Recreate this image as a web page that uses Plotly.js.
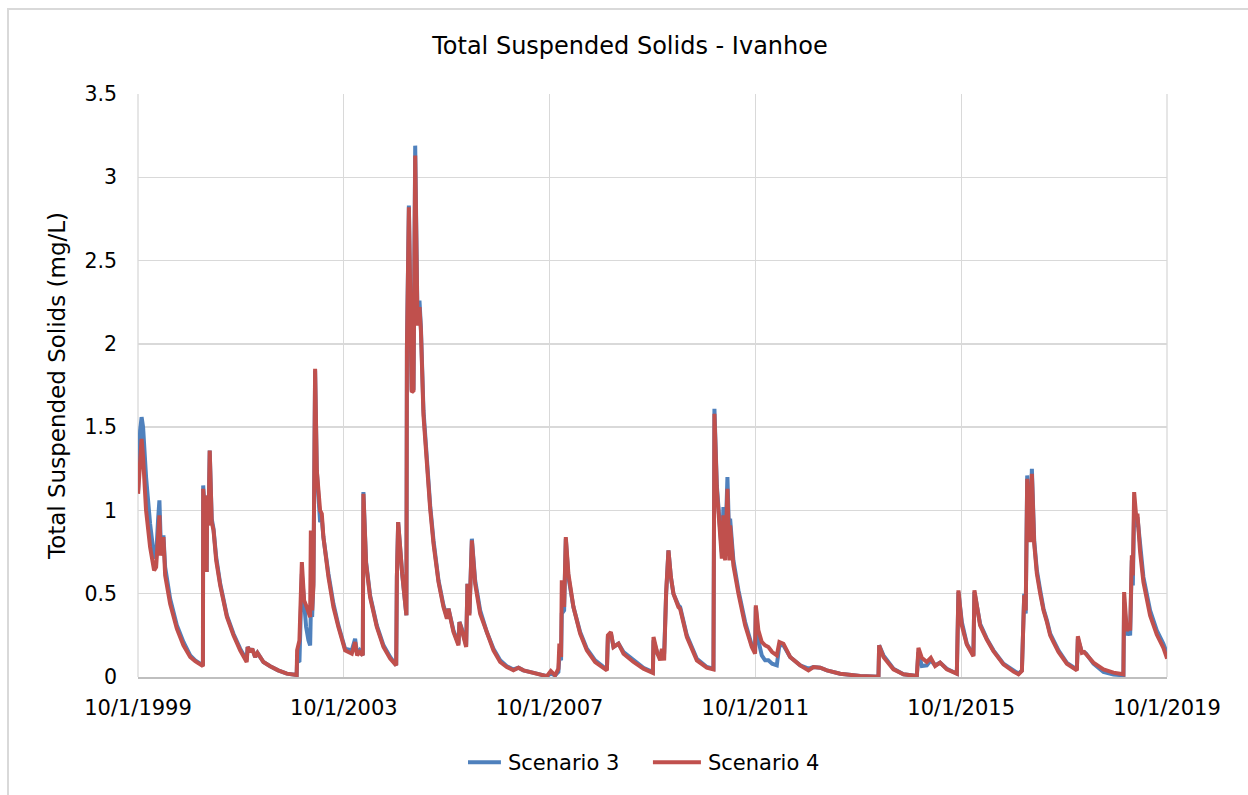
<!DOCTYPE html>
<html>
<head>
<meta charset="utf-8">
<script src="https://cdn.plot.ly/plotly-3.0.1.min.js"></script>
<style>
  html, body { margin:0; padding:0; background:#fff; overflow:hidden; }
  #chart { width:1248px; height:795px; position:absolute; left:0; top:0; }
  #frame { position:absolute; left:7px; top:8px; width:1400px; height:1000px;
           border-left:2px solid #d9d9d9; border-top:2px solid #d9d9d9; pointer-events:none; }
</style>
</head>
<body>
<div id="chart"></div>
<div id="frame"></div>
<script>
// Time in decimal years
const t = [
1999.750,1999.789,1999.818,1999.847,1999.905,1999.983,2000.061,2000.100,2000.139,2000.164,
2000.191,2000.216,2000.242,2000.275,2000.372,2000.502,2000.630,2000.761,2000.858,2000.922,
2001.008,2001.013,2001.052,2001.081,2001.091,2001.116,2001.140,2001.179,2001.214,2001.266,
2001.344,2001.474,2001.602,2001.732,2001.859,2001.878,2001.927,2001.966,2002.024,2002.069,
2002.185,2002.316,2002.471,2002.640,2002.831,2002.840,2002.885,2002.932,2002.976,2003.015,
2003.060,2003.093,2003.107,2003.132,2003.157,2003.190,2003.223,2003.258,2003.287,2003.320,
2003.351,2003.449,2003.546,2003.643,2003.773,2003.904,2003.968,2004.007,2004.055,2004.117,
2004.129,2004.181,2004.259,2004.389,2004.518,2004.648,2004.765,2004.778,2004.803,2004.881,
2004.963,2004.973,2005.011,2005.066,2005.101,2005.134,2005.179,2005.217,2005.245,2005.295,
2005.361,2005.425,2005.490,2005.587,2005.684,2005.750,2005.781,2005.878,2005.975,2005.995,
2006.041,2006.125,2006.150,2006.189,2006.236,2006.300,2006.397,2006.527,2006.656,2006.786,
2006.916,2007.044,2007.142,2007.239,2007.499,2007.694,2007.771,2007.855,2007.919,2007.938,
2007.971,2007.985,2008.030,2008.063,2008.113,2008.211,2008.341,2008.471,2008.632,2008.763,
2008.860,2008.879,2008.938,2008.988,2009.085,2009.183,2009.377,2009.571,2009.754,2009.766,
2009.843,2009.896,2009.929,2009.973,2010.012,2010.057,2010.104,2010.154,2010.251,2010.284,
2010.415,2010.609,2010.803,2010.932,2010.951,2010.998,2011.095,2011.126,2011.159,2011.204,
2011.243,2011.256,2011.320,2011.418,2011.548,2011.678,2011.742,2011.756,2011.806,2011.872,
2011.937,2012.001,2012.073,2012.164,2012.214,2012.292,2012.422,2012.617,2012.778,2012.875,
2013.006,2013.136,2013.394,2013.783,2014.139,2014.152,2014.236,2014.430,2014.625,2014.885,
2014.916,2014.982,2015.079,2015.157,2015.241,2015.338,2015.468,2015.663,2015.694,2015.760,
2015.857,2015.985,2016.005,2016.115,2016.245,2016.374,2016.568,2016.763,2016.860,2016.926,
2016.945,2016.971,2017.000,2017.029,2017.087,2017.120,2017.165,2017.217,2017.282,2017.346,
2017.412,2017.476,2017.540,2017.637,2017.800,2017.995,2018.014,2018.092,2018.137,2018.175,
2018.317,2018.512,2018.706,2018.900,2018.914,2018.966,2018.998,2019.031,2019.064,2019.083,
2019.109,2019.147,2019.173,2019.225,2019.289,2019.419,2019.549,2019.678,2019.750
];

// Scenario 4 (red), mg/L
const scenario4 = [
1.10,1.36,1.43,1.32,1.00,0.78,0.64,0.66,0.88,0.97,
0.73,0.75,0.84,0.61,0.44,0.29,0.19,0.12,0.095,0.08,
0.065,1.13,0.95,0.63,1.09,0.91,1.36,0.93,0.88,0.70,
0.55,0.36,0.25,0.16,0.09,0.18,0.15,0.17,0.12,0.145,
0.09,0.065,0.04,0.02,0.012,0.16,0.22,0.69,0.46,0.43,
0.38,0.36,0.88,0.40,0.55,1.85,1.24,1.10,1.00,0.98,
0.84,0.60,0.42,0.30,0.16,0.14,0.21,0.13,0.15,0.13,
1.10,0.68,0.48,0.30,0.18,0.11,0.07,0.60,0.93,0.62,
0.37,1.97,2.82,1.71,1.72,3.13,2.11,2.22,2.08,1.57,
1.25,1.01,0.80,0.57,0.42,0.35,0.41,0.27,0.19,0.33,
0.28,0.18,0.56,0.37,0.82,0.56,0.38,0.26,0.16,0.09,
0.06,0.04,0.056,0.04,0.02,0.005,0.036,0.01,0.05,0.20,
0.12,0.58,0.42,0.84,0.62,0.42,0.26,0.16,0.09,0.06,
0.04,0.25,0.27,0.18,0.20,0.14,0.09,0.05,0.024,0.24,
0.14,0.10,0.17,0.10,0.51,0.76,0.60,0.50,0.42,0.41,
0.24,0.10,0.056,0.046,1.58,1.13,0.71,0.97,0.70,1.13,
0.70,0.91,0.67,0.50,0.31,0.18,0.14,0.43,0.28,0.21,
0.19,0.18,0.15,0.13,0.21,0.20,0.12,0.07,0.04,0.06,
0.056,0.04,0.02,0.006,0.002,0.19,0.12,0.046,0.016,0.006,
0.175,0.115,0.09,0.115,0.066,0.086,0.046,0.02,0.52,0.31,
0.195,0.125,0.52,0.31,0.225,0.155,0.076,0.032,0.016,0.036,
0.275,0.49,0.40,1.19,0.81,1.22,0.80,0.62,0.50,0.40,
0.33,0.25,0.21,0.15,0.08,0.04,0.245,0.145,0.15,0.135,
0.086,0.046,0.026,0.016,0.51,0.275,0.31,0.28,0.73,0.61,
1.11,0.97,0.98,0.75,0.57,0.37,0.255,0.175,0.11
];

// Scenario 3 (blue), mg/L
const scenario3 = [
1.12,1.48,1.56,1.50,1.20,0.92,0.72,0.72,0.95,1.06,
0.80,0.80,0.85,0.66,0.47,0.31,0.21,0.13,0.10,0.085,
0.07,1.15,0.95,0.63,1.09,0.91,1.36,0.95,0.89,0.72,
0.56,0.37,0.26,0.17,0.10,0.18,0.15,0.17,0.12,0.145,
0.09,0.065,0.04,0.02,0.012,0.10,0.09,0.62,0.40,0.30,
0.22,0.19,0.40,0.36,0.57,1.84,1.24,1.05,0.93,0.95,
0.84,0.62,0.44,0.31,0.17,0.16,0.23,0.14,0.16,0.13,
1.11,0.69,0.49,0.31,0.19,0.12,0.07,0.60,0.93,0.62,
0.37,1.98,2.83,1.72,1.73,3.19,2.13,2.26,2.10,1.60,
1.27,1.03,0.82,0.58,0.43,0.36,0.41,0.28,0.20,0.33,
0.29,0.19,0.56,0.38,0.83,0.58,0.40,0.27,0.17,0.10,
0.065,0.045,0.056,0.04,0.02,0.005,0.02,0.01,0.03,0.12,
0.10,0.38,0.40,0.83,0.60,0.42,0.27,0.17,0.10,0.065,
0.045,0.24,0.26,0.18,0.20,0.15,0.10,0.055,0.03,0.22,
0.14,0.12,0.16,0.14,0.50,0.76,0.60,0.50,0.43,0.42,
0.25,0.11,0.06,0.05,1.61,1.15,0.75,1.02,0.75,1.20,
0.78,0.95,0.70,0.52,0.33,0.19,0.15,0.42,0.22,0.13,
0.10,0.10,0.08,0.07,0.19,0.19,0.12,0.07,0.05,0.06,
0.056,0.04,0.02,0.006,0.002,0.19,0.13,0.05,0.016,0.006,
0.15,0.066,0.07,0.10,0.07,0.086,0.05,0.02,0.51,0.33,
0.20,0.13,0.51,0.32,0.23,0.16,0.08,0.035,0.02,0.04,
0.26,0.50,0.38,1.21,0.82,1.25,0.82,0.64,0.52,0.41,
0.34,0.26,0.22,0.16,0.085,0.045,0.23,0.15,0.15,0.14,
0.08,0.03,0.015,0.01,0.45,0.25,0.28,0.25,0.70,0.55,
1.00,0.90,0.96,0.78,0.60,0.40,0.28,0.20,0.14
];

const tickDates = ['1999-10-01','2003-10-01','2007-10-01','2011-10-01','2015-10-01','2019-10-01'];
const tickLabels = ['10/1/1999','10/1/2003','10/1/2007','10/1/2011','10/1/2015','10/1/2019'];

function yrToDate(y) {
  const yr = Math.floor(y);
  const frac = y - yr;
  const s = Date.UTC(yr, 0, 1), e = Date.UTC(yr + 1, 0, 1);
  return new Date(s + frac * (e - s)).toISOString().slice(0, 19).replace('T', ' ');
}
const dates = t.map(yrToDate);

const FONT = 'DejaVu Sans';
const traces = [
  { x: dates, y: scenario3, type: 'scatter', mode: 'lines', name: 'Scenario 3',
    line: { color: 'rgb(79,129,189)', width: 4 } },
  { x: dates, y: scenario4, type: 'scatter', mode: 'lines', name: 'Scenario 4',
    line: { color: 'rgb(192,80,77)', width: 4 } }
];

const GRID = '#d9d9d9';
const layout = {
  width: 1248, height: 795,
  margin: { l: 138, r: 81, t: 94, b: 115 },
  paper_bgcolor: '#fff', plot_bgcolor: '#fff',
  font: { family: FONT, color: '#000' },
  title: { text: 'Total Suspended Solids - Ivanhoe', font: { family: FONT, size: 24, color: '#000' },
           xref: 'container', x: 0.5048, xanchor: 'center', yref: 'container', y: 0.943, yanchor: 'middle' },
  xaxis: {
    type: 'date', range: ['1999-10-01', '2019-10-01'],
    tickmode: 'array', tickvals: tickDates, ticktext: tickLabels,
    showgrid: true, gridcolor: GRID, gridwidth: 1.3,
    showline: true, linecolor: '#bfbfbf', linewidth: 1.5,
    ticks: '', zeroline: false, tickfont: { family: FONT, size: 21, color: '#000' },
    ticklabelstandoff: 11, fixedrange: true
  },
  yaxis: {
    range: [0, 3.5], tick0: 0, dtick: 0.5,
    showgrid: true, gridcolor: GRID, gridwidth: 1.3,
    showline: false, zeroline: false, ticks: '',
    tickfont: { family: FONT, size: 20.5, color: '#000' }, ticklabelstandoff: 20,
    title: { text: 'Total Suspended Solids (mg/L)', font: { family: FONT, size: 23, color: '#000' }, standoff: 12 },
    fixedrange: true
  },
  shapes: [
    { type: 'line', xref: 'paper', yref: 'paper', x0: 0, x1: 0, y0: 0, y1: 1, line: { color: GRID, width: 1.3 }, layer: 'below' },
    { type: 'line', xref: 'paper', yref: 'paper', x0: 1, x1: 1, y0: 0, y1: 1, line: { color: GRID, width: 1.3 }, layer: 'below' }
  ],
  showlegend: true,
  legend: { orientation: 'h', x: 0.515, xanchor: 'center', y: -0.1468, yanchor: 'middle',
            entrywidth: 155, entrywidthmode: 'pixels',
            font: { family: FONT, size: 21, color: '#000' }, bgcolor: 'rgba(0,0,0,0)' }
};

Plotly.newPlot('chart', traces, layout, { displayModeBar: false, staticPlot: true }).then(function (gd) {
  // lengthen legend line samples to match the reference
  gd.querySelectorAll('.legend .legendlines path').forEach(function (p) {
    p.setAttribute('d', 'M-15,0h48');
  });
});
</script>
</body>
</html>
